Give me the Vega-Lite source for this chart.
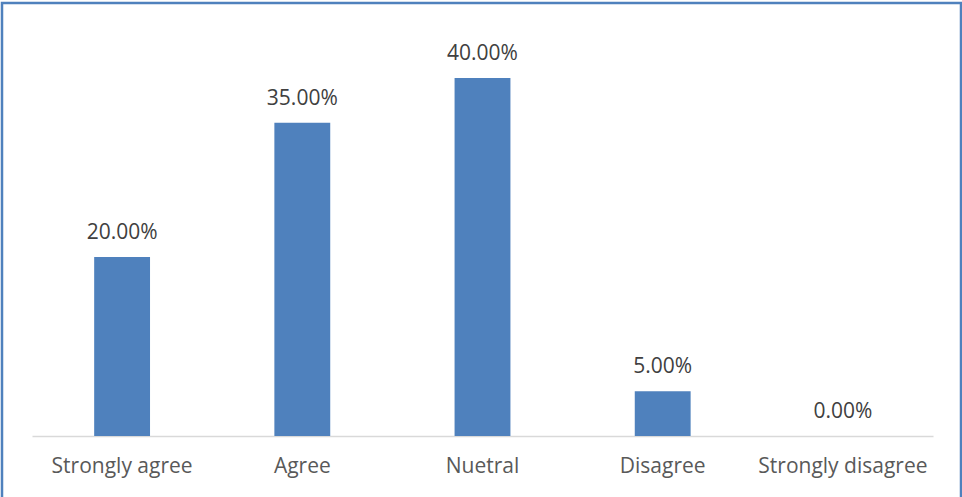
{
  "$schema": "https://vega.github.io/schema/vega-lite/v6.json",
  "width": 959,
  "height": 500,
  "autosize": "none",
  "padding": {"left": 2, "top": 3, "right": 1, "bottom": 0},
  "background": "white",
  "config": {
    "view": {"stroke": "#4f81bd", "strokeWidth": 2.5},
    "font": "Open Sans"
  },
  "data": {
    "values": [
      {"response": "Strongly agree", "share": 0.20},
      {"response": "Agree", "share": 0.35},
      {"response": "Nuetral", "share": 0.40},
      {"response": "Disagree", "share": 0.05},
      {"response": "Strongly disagree", "share": 0.0}
    ]
  },
  "encoding": {
    "x": {
      "field": "response",
      "type": "nominal",
      "sort": null,
      "scale": {"range": [30, 931], "paddingInner": 0.69, "paddingOuter": 0.345},
      "axis": {
        "title": null,
        "orient": "bottom",
        "offset": -67,
        "ticks": false,
        "domainColor": "#d9d9d9",
        "domainWidth": 1.5,
        "labelAngle": 0,
        "labelFont": "Open Sans",
        "labelFontSize": 21,
        "labelColor": "#595959",
        "labelPadding": 19,
        "labelBaseline": "top"
      }
    },
    "y": {
      "field": "share",
      "type": "quantitative",
      "scale": {"domain": [0, 0.4838], "range": [433, 0], "nice": false, "zero": true},
      "axis": null
    }
  },
  "layer": [
    {"mark": {"type": "bar", "color": "#4f81bd"}},
    {
      "mark": {"type": "text", "baseline": "alphabetic", "dy": -18, "fontSize": 21, "color": "#404040", "font": "Open Sans"},
      "encoding": {"text": {"field": "share", "type": "quantitative", "format": ".2%"}}
    }
  ]
}
